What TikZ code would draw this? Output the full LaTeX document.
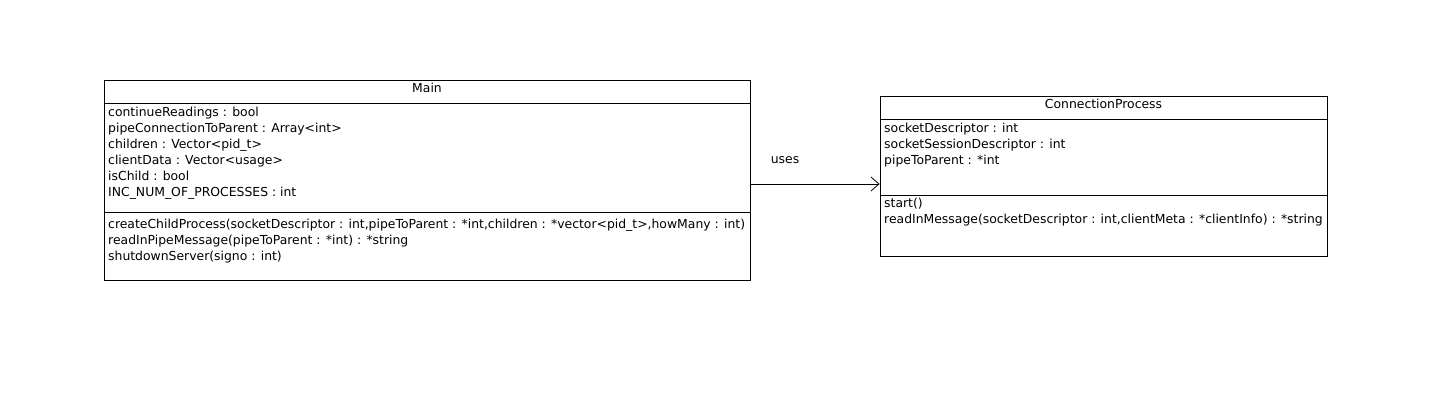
\documentclass[tikz,border=0pt]{standalone}
\usepackage{fontspec}
\newfontfamily\umlfont{DejaVu Sans}
\usetikzlibrary{arrows.meta}
\tikzset{
  classbox/.style={draw=black, line width=0.8bp, rectangle, inner sep=0pt},
  member/.style={anchor=west, inner sep=0pt, text height=10bp, text depth=2bp,
    font=\umlfont\fontsize{12.4bp}{14bp}\selectfont},
  title/.style={member, anchor=center},
  uses/.style={draw=black, line width=0.8bp, -{Straight Barb[length=8bp,width=14bp]}}
}
\begin{document}
\begin{tikzpicture}[x=1bp,y=-1bp]
\useasboundingbox (0,0) rectangle (1431,408);
% class Main
\node[classbox, minimum width=646bp, minimum height=200bp] (main) at (427,180) {};
\draw[line width=0.8bp] (main.west |- 0,103) -- (main.east |- 0,103);
\draw[line width=0.8bp] (main.west |- 0,212) -- (main.east |- 0,212);
\node[title] (mainname) at (427,88) {Main};
\node[member] (ma1) at (108,112) {continueReadings : bool};
\node[member] (ma2) at (108,128) {pipeConnectionToParent : Array<int>};
\node[member] (ma3) at (108,144) {children : Vector<pid\_t>};
\node[member] (ma4) at (108,160) {clientData : Vector<usage>};
\node[member] (ma5) at (108,176) {isChild : bool};
\node[member] (ma6) at (108,192) {INC\_NUM\_OF\_PROCESSES : int};
\node[member] (mo1) at (108,224) {createChildProcess(socketDescriptor : int,pipeToParent : *int,children : *vector<pid\_t>,howMany : int)};
\node[member] (mo2) at (108,240) {readInPipeMessage(pipeToParent : *int) : *string};
\node[member] (mo3) at (108,256) {shutdownServer(signo : int)};
% class ConnectionProcess
\node[classbox, minimum width=447bp, minimum height=160bp] (cp) at (1103.5,176) {};
\draw[line width=0.8bp] (cp.west |- 0,119) -- (cp.east |- 0,119);
\draw[line width=0.8bp] (cp.west |- 0,195) -- (cp.east |- 0,195);
\node[title] (cpname) at (1103.5,104) {ConnectionProcess};
\node[member] (ca1) at (884,128) {socketDescriptor : int};
\node[member] (ca2) at (884,144) {socketSessionDescriptor : int};
\node[member] (ca3) at (884,160) {pipeToParent : *int};
\node[member] (co1) at (884,203) {start()};
\node[member] (co2) at (884,219) {readInMessage(socketDescriptor : int,clientMeta : *clientInfo) : *string};
% association
\coordinate (usesrow) at (0,184);
\draw[uses] (main.east |- usesrow) -- (cp.west |- usesrow);
\node[title] (useslabel) at (785,159) {uses};
\end{tikzpicture}
\end{document}
